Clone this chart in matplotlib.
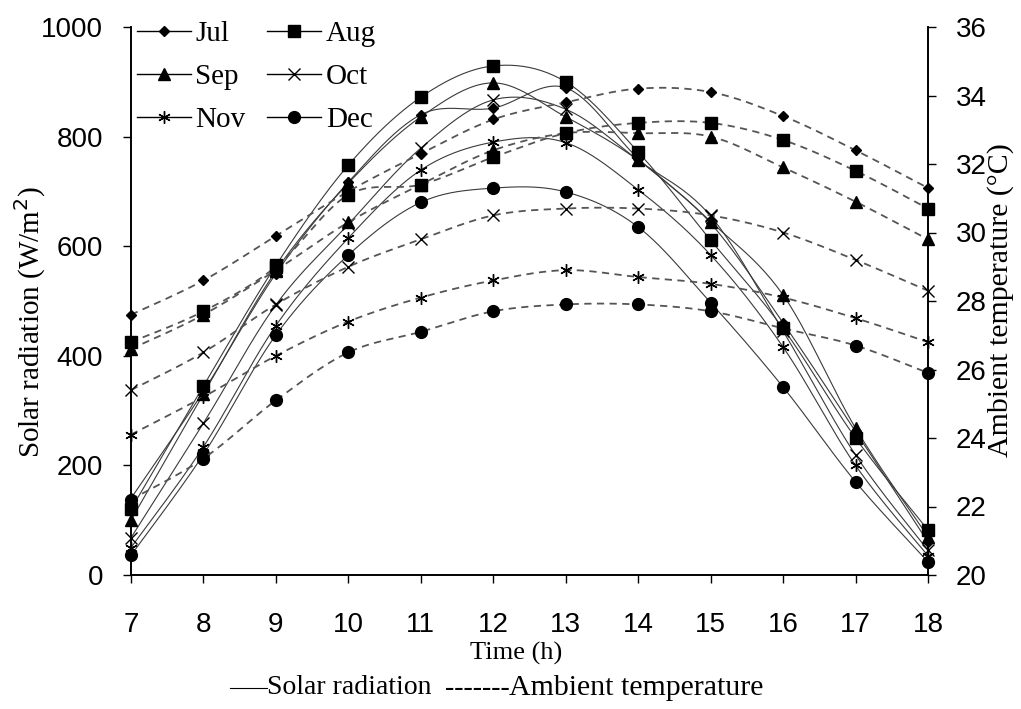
import matplotlib
matplotlib.use("Agg")
import matplotlib.pyplot as plt
import numpy as np
from matplotlib.lines import Line2D

hours = [7, 8, 9, 10, 11, 12, 13, 14, 15, 16, 17, 18]
months = ["Jul", "Aug", "Sep", "Oct", "Nov", "Dec"]

# solar radiation, W/m2 (left axis)
rad_jul = [140, 335, 550, 717, 840, 852, 889, 760, 642, 460, 262, 60]
rad_aug = [120, 345, 565, 748, 872, 929, 900, 772, 611, 450, 250, 82]
rad_sep = [100, 330, 555, 715, 836, 898, 836, 757, 645, 511, 268, 70]
rad_oct = [68, 277, 493, 640, 779, 867, 850, 757, 655, 445, 219, 45]
rad_nov = [50, 234, 455, 615, 739, 790, 789, 703, 584, 416, 200, 35]
rad_dec = [36, 220, 438, 584, 680, 706, 699, 635, 497, 343, 170, 24]

# ambient temperature, deg C (right axis)
tmp_jul = [27.6, 28.6, 29.9, 31.2, 32.3, 33.3, 33.8, 34.2, 34.1, 33.4, 32.4, 31.3]
tmp_aug = [26.8, 27.7, 29.0, 31.1, 31.4, 32.2, 32.9, 33.2, 33.2, 32.7, 31.8, 30.7]
tmp_sep = [26.6, 27.6, 28.9, 30.3, 31.4, 32.4, 32.9, 32.9, 32.8, 31.9, 30.9, 29.8]
tmp_oct = [25.4, 26.5, 27.9, 29.0, 29.8, 30.5, 30.7, 30.7, 30.5, 30.0, 29.2, 28.3]
tmp_nov = [24.1, 25.2, 26.4, 27.4, 28.1, 28.6, 28.9, 28.7, 28.5, 28.1, 27.5, 26.8]
tmp_dec = [22.2, 23.4, 25.1, 26.5, 27.1, 27.7, 27.9, 27.9, 27.7, 27.2, 26.7, 25.9]

rad = [rad_jul, rad_aug, rad_sep, rad_oct, rad_nov, rad_dec]
tmp = [tmp_jul, tmp_aug, tmp_sep, tmp_oct, tmp_nov, tmp_dec]

markers = ["D", "s", "^", "x", (6, 2, 0), "o"]
msizes = [5, 9, 8.5, 8, 9, 8.5]

serif = "Liberation Serif"
sans = "Liberation Sans"


def smooth(x, y, n=24):
    # excel style smoothed line (catmull-rom bezier)
    p = np.column_stack([x, y]).astype(float)
    p = np.vstack([p[0], p, p[-1]])
    t = np.linspace(0, 1, n, endpoint=False)[:, None]
    out = []
    for i in range(1, len(p) - 2):
        p0, p1, p2, p3 = p[i - 1], p[i], p[i + 1], p[i + 2]
        c1 = p1 + (p2 - p0) / 6
        c2 = p2 - (p3 - p1) / 6
        seg = ((1 - t) ** 3) * p1 + 3 * ((1 - t) ** 2) * t * c1 \
            + 3 * (1 - t) * t ** 2 * c2 + t ** 3 * p2
        out.append(seg)
    out.append(p[-2][None, :])
    out = np.vstack(out)
    return out[:, 0], out[:, 1]


fig = plt.figure(figsize=(10.21, 7.09), dpi=100)
ax = fig.add_axes([131 / 1021, 1 - 575 / 709, 797 / 1021, 548 / 709])
ax2 = ax.twinx()

for i in range(6):
    sx, sy = smooth(hours, rad[i])
    ax.plot(sx, sy, color="#3a3a3a", lw=0.8, clip_on=False, zorder=3)
    ax.plot(hours, rad[i], ls="none", marker=markers[i], ms=msizes[i],
            color="black", mew=1.0, clip_on=False, zorder=4)
    tx, ty = smooth(hours, tmp[i])
    ax2.plot(tx, ty, color="#555555", lw=1.3, dashes=(4, 3), clip_on=False, zorder=3)
    ax2.plot(hours, tmp[i], ls="none", marker=markers[i], ms=msizes[i],
             color="black", mew=1.0, clip_on=False, zorder=4)

ax.set_xlim(7, 18)
ax.set_ylim(0, 1000)
ax2.set_ylim(20, 36)
ax.set_xticks(hours)
ax.set_yticks(range(0, 1001, 200))
ax2.set_yticks(range(20, 37, 2))

for a in (ax, ax2):
    a.spines["top"].set_visible(False)
    for s in a.spines.values():
        s.set_linewidth(1.2)
    a.tick_params(direction="out", length=6, width=1.0, labelsize=20)
    for lab in a.get_xticklabels() + a.get_yticklabels():
        lab.set_family(sans)
ax.tick_params(axis="x", pad=21)
ax.tick_params(axis="y", pad=14)
ax2.tick_params(axis="y", pad=14)
ax.patch.set_visible(False)

ax.set_xlabel("Time (h)", family=serif, fontsize=19)
ax.xaxis.set_label_coords((516 - 131) / 797, (575 - 653) / 548)
ax.xaxis.label.set_va("center")
ax.set_ylabel("Solar radiation (W/m$^2$)", family=serif, fontsize=21)
ax.yaxis.set_label_coords((30 - 131) / 797, (575 - 322) / 548)
ax.yaxis.label.set_va("center")
ax2.set_ylabel("Ambient temperature (°C)", family=serif, fontsize=21.5, rotation=90)
ax2.yaxis.set_label_coords((1001 - 131) / 797, (575 - 300) / 548)
ax2.yaxis.label.set_va("center")

handles = [Line2D([], [], color="black", lw=1.0, marker=markers[i], ms=msizes[i])
           for i in range(6)]
# column order for a 2-col legend: Jul Sep Nov / Aug Oct Dec
order = [0, 2, 4, 1, 3, 5]
ax2.legend([handles[k] for k in order], [months[k] for k in order],
           loc="upper left", bbox_to_anchor=(137 / 1021, 1 - 21 / 709),
           bbox_transform=fig.transFigure, ncol=2, frameon=False,
           prop={"family": serif, "size": 21}, handlelength=1.85,
           handletextpad=0.15, columnspacing=0.75, labelspacing=0.56,
           borderpad=0, borderaxespad=0)

# bottom line-style note
yc = 1 - 688 / 709
fig.add_artist(Line2D([230 / 1021, 267 / 1021], [yc, yc], color="black", lw=0.8))
fig.text(267 / 1021, yc, "Solar radiation", family=serif, fontsize=20, va="center")
fig.text(445 / 1021, yc, "-------", family=serif, fontsize=20, va="center")
fig.text(509 / 1021, yc, "Ambient temperature", family=serif, fontsize=21.5,
         va="center")

fig.savefig("out.png", dpi=100)
